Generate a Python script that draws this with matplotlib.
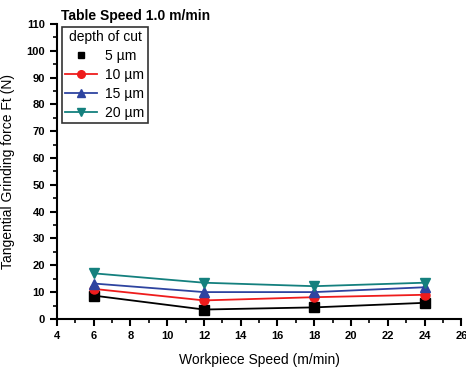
import matplotlib
matplotlib.use('Agg')
import matplotlib.pyplot as plt
from matplotlib.lines import Line2D
from matplotlib.ticker import MultipleLocator

plt.rcParams['font.family'] = ['Liberation Sans', 'DejaVu Sans']

speeds = [6, 12, 18, 24]
depth_labels = ['5 \u00b5m', '10 \u00b5m', '15 \u00b5m', '20 \u00b5m']
force_5 = [8.7, 3.5, 4.3, 6.0]
force_10 = [11.2, 6.9, 8.1, 9.0]
force_15 = [13.2, 10.0, 10.0, 11.8]
force_20 = [17.0, 13.5, 12.2, 13.5]

series = [force_5, force_10, force_15, force_20]
colors = ['black', '#ee1c1c', '#2e44a0', '#14807e']
markers = ['s', 'o', '^', 'v']

fig = plt.figure(figsize=(4.66, 3.67), dpi=100)
ax = fig.add_axes([0.122, 0.131, 0.868, 0.804])

handles = []
for vals, c, m, lab in zip(series, colors, markers, depth_labels):
    ax.plot(speeds, vals, color=c, marker=m, markersize=6.5, linewidth=1.3)
    if m == 's':
        h = Line2D([], [], color=c, marker=m, markersize=4.5, linestyle='none')
    else:
        h = Line2D([], [], color=c, marker=m, markersize=5.5, linewidth=1.3)
    handles.append(h)

ax.set_xlim(4, 26)
ax.set_ylim(0, 110)
ax.xaxis.set_major_locator(MultipleLocator(2))
ax.xaxis.set_minor_locator(MultipleLocator(1))
ax.yaxis.set_major_locator(MultipleLocator(10))
ax.yaxis.set_minor_locator(MultipleLocator(5))
ax.spines['top'].set_visible(False)
ax.spines['right'].set_visible(False)
ax.spines['left'].set_linewidth(1.5)
ax.spines['bottom'].set_linewidth(1.5)
ax.tick_params(which='major', length=5, width=1.5, labelsize=8)
ax.tick_params(which='minor', length=3, width=1.2)
for t in ax.get_xticklabels() + ax.get_yticklabels():
    t.set_fontweight('bold')

ax.set_xlabel('Workpiece Speed (m/min)', fontsize=10, labelpad=9)
ax.set_ylabel('Tangential Grinding force Ft (N)', fontsize=10, labelpad=8)
fig.text(0.13, 0.945, 'Table Speed 1.0 m/min', fontsize=10, fontweight='bold')

leg = ax.legend(handles=handles, labels=depth_labels, title='depth of cut',
                loc='upper left', bbox_to_anchor=(0.012, 0.99), borderaxespad=0,
                fontsize=10, title_fontsize=10, frameon=True, fancybox=False,
                edgecolor='black', handlelength=2.3, borderpad=0.25,
                labelspacing=0.35, handletextpad=0.6)
leg.get_frame().set_linewidth(1.2)

fig.savefig('out.png', dpi=100)
